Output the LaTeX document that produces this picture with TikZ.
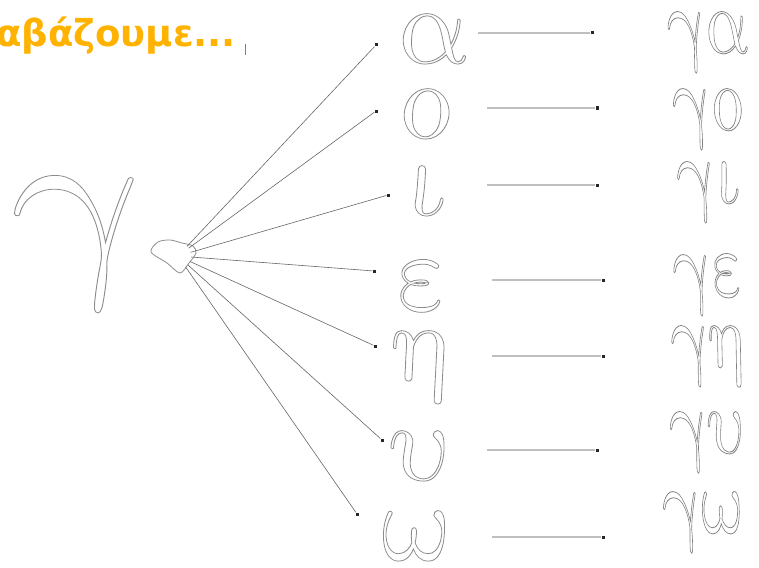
\RequirePackage{fix-cm}
\documentclass[tikz,border=0pt]{standalone}
\usepackage{graphicx}
\usepackage{fontspec}
\newfontfamily\titlefont{DejaVu Sans}
\definecolor{titleorange}{RGB}{255,178,0}
% outlined glyphs: stroke only
\newcommand\hollow[1]{\special{pdf:literal direct 1 Tr 0.8 w}#1\special{pdf:literal direct 0 Tr}}
\tikzset{
  vowel/.style={anchor=base,inner sep=0pt,text=black!45,xslant=-0.2,transform shape,font=\fontsize{112}{112}\selectfont},
  syll/.style={anchor=base,inner sep=0pt,text=black!50,xslant=-0.2,transform shape,font=\fontsize{94}{94}\selectfont},
  dot/.style={fill=black!85,minimum size=3pt,inner sep=0pt},
  spoke/.style={draw=black!60,line width=0.6pt},
  bar/.style={draw=black!25,line width=2.5pt},
}
\begin{document}
\begin{tikzpicture}[x=1pt,y=-1pt]
  \useasboundingbox (0,0) rectangle (759,567);
  \node[anchor=base west,inner sep=0pt,text=titleorange,font=\titlefont\bfseries\fontsize{37}{37}\selectfont] (title) at (-4,47) {αβάζουμε...};
  \draw[black!50,line width=1pt] (245,44) -- (245,55);
  % big gamma and the heart
  \node[anchor=base,inner sep=0pt,text=black!45,xslant=-0.15,transform shape,font=\fontsize{210}{210}\selectfont] (gamma) at (86,268) {\scalebox{1.15}[1]{\hollow{$\gamma$}}};
  \draw[black!45,line width=0.8pt] plot[smooth cycle] coordinates {(151,252) (158,242) (170,240) (182,243) (193,246) (196,253) (189,263) (180,273) (167,263)};
  \node[circle,minimum size=26pt,inner sep=0pt] (hub) at (178,256) {};
  \foreach \v/\vx/\vy/\dx/\dy [count=\i] in {\alpha/438/63/376/45, o/430/138/376/111, \iota/430/215/388/195,
      \varepsilon/426/310/374/271, \eta/426/380/375/346, \upsilon/426/480/382/440, \omega/422/560/357/514}{
    \node[vowel] (v\i) at (\vx,\vy) {\hollow{$\v$}};
    \node[dot] (d\i) at (\dx,\dy) {};
    \draw[spoke] (hub) -- (d\i);
  }
  \foreach \v/\ax/\bx/\by/\gx/\gy [count=\i] in {\alpha/478/592/33/712/53, o/487/597/108/712/130, \iota/487/597/185/712/203,
      \varepsilon/492/603/280/712/296, \eta/492/603/356/712/367, \upsilon/487/597/450/712/453, \omega/492/603/537/708/533}{
    \coordinate (s\i) at (\ax,\by);
    \node[dot] (e\i) at (\bx,\by) {};
    \draw[bar] (s\i) -- (e\i);
    \node[syll] (g\i) at (\gx,\gy) {\scalebox{0.72}[1]{\hollow{$\gamma\v$}}};
  }
\end{tikzpicture}
\end{document}
